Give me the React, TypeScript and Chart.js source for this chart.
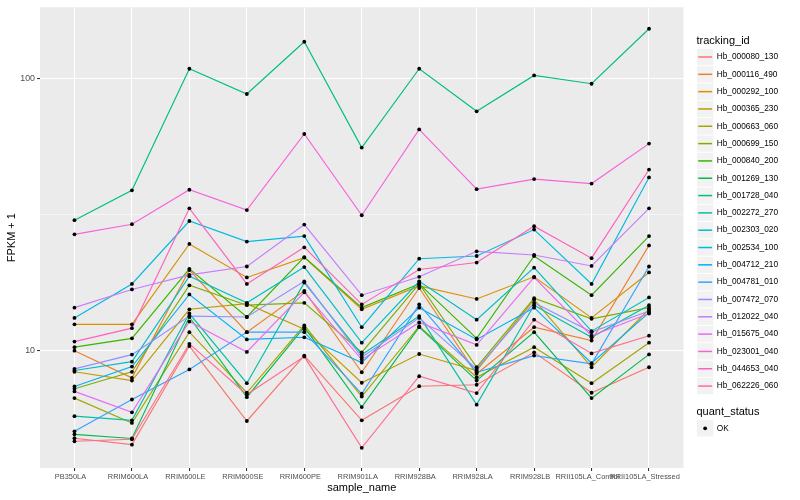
import React, { useEffect, useRef } from "react";
import { Chart, registerables } from "chart.js";

Chart.register(...registerables);

const categories = [
  "PB350LA",
  "RRIM600LA",
  "RRIM600LE",
  "RRIM600SE",
  "RRIM600PE",
  "RRIM901LA",
  "RRIM928BA",
  "RRIM928LA",
  "RRIM928LB",
  "RRII105LA_Control",
  "RRII105LA_Stressed",
];

const seriesNames = [
  "Hb_000080_130",
  "Hb_000116_490",
  "Hb_000292_100",
  "Hb_000365_230",
  "Hb_000663_060",
  "Hb_000699_150",
  "Hb_000840_200",
  "Hb_001269_130",
  "Hb_001728_040",
  "Hb_002272_270",
  "Hb_002303_020",
  "Hb_002534_100",
  "Hb_004712_210",
  "Hb_004781_010",
  "Hb_007472_070",
  "Hb_012022_040",
  "Hb_015675_040",
  "Hb_023001_040",
  "Hb_044653_040",
  "Hb_062226_060",
];

const seriesColors = [
  "#F8766D", "#EA8331", "#D89000", "#C09B00", "#A3A500",
  "#7CAE00", "#39B600", "#00BB4E", "#00BF7D", "#00C1A3",
  "#00BFC4", "#00BAE0", "#00B0F6", "#35A2FF", "#9590FF",
  "#C77CFF", "#E76BF3", "#FA62DB", "#FF62BC", "#FF6C91",
];

const hb000080 = [4.76, 4.51, 10.4, 5.51, 9.59, 5.54, 7.40, 7.49, 9.86, 7.00, 8.69];
const hb000116 = [10.0, 7.94, 19.8, 11.7, 16.6, 8.33, 17.0, 8.22, 12.2, 10.9, 24.4];
const hb000292 = [12.5, 12.5, 24.7, 18.6, 22.0, 14.2, 17.3, 15.5, 18.7, 13.2, 19.4];
const hb000365 = [8.36, 7.76, 14.2, 14.9, 12.0, 7.62, 9.72, 8.45, 15.4, 8.69, 14.2];
const hb000663 = [6.69, 5.42, 11.7, 7.00, 12.4, 6.78, 12.3, 7.98, 10.3, 7.59, 10.7];
const hb000699 = [7.24, 8.36, 17.4, 14.7, 15.0, 9.86, 17.6, 8.69, 15.6, 13.1, 14.4];
const hb000840 = [10.3, 11.1, 20.0, 13.3, 22.1, 14.4, 17.6, 11.1, 22.3, 16.0, 26.4];
const hb001269 = [4.92, 4.75, 13.3, 6.74, 12.2, 6.20, 12.2, 7.76, 11.7, 6.69, 9.69];
const hb001728 = [30.2, 38.9, 109, 88, 137, 55.9, 109, 76, 103, 96, 153];
const hb002272 = [5.74, 5.54, 13.7, 7.59, 17.8, 9.67, 13.4, 6.33, 14.7, 11.2, 14.7];
const hb002303 = [8.45, 9.11, 18.8, 15.0, 20.3, 10.7, 18.0, 13.0, 20.2, 11.8, 15.7];
const hb002534 = [13.2, 17.6, 30.0, 25.2, 26.4, 12.2, 21.8, 22.3, 27.9, 17.6, 43.4];
const hb004712 = [7.38, 8.74, 16.1, 11.0, 11.2, 9.04, 14.4, 11.0, 14.4, 8.99, 13.8];
const hb004781 = [5.05, 6.61, 8.53, 11.7, 11.7, 6.94, 14.8, 8.33, 9.59, 8.94, 20.4];
const hb007472 = [8.57, 9.67, 13.4, 13.3, 18.0, 9.45, 13.2, 8.57, 15.0, 11.7, 14.0];
const hb012022 = [14.4, 16.8, 19.0, 20.4, 29.1, 16.0, 18.7, 23.2, 22.5, 20.5, 33.4];
const hb015675 = [7.08, 5.93, 12.8, 9.89, 16.4, 9.27, 12.7, 10.5, 18.6, 11.35, 13.7];
const hb023001 = [26.8, 29.2, 39.1, 32.9, 62.7, 31.5, 65.2, 39.3, 42.8, 41.2, 57.8];
const hb044653 = [10.8, 12.1, 33.4, 17.6, 24.0, 14.8, 19.9, 21.1, 28.7, 21.9, 46.4];
const hb062226 = [4.64, 4.72, 10.6, 6.90, 9.51, 4.39, 8.05, 6.98, 13.0, 9.77, 11.35];

const yMajorTicks = [10, 100];
const yMinorTicks = [31.62];
const yRange = [3.7, 183.5];

const FONT = "'Liberation Sans', Arial, Helvetica, sans-serif";

export default function App() {
  const ref = useRef<HTMLCanvasElement | null>(null);

  useEffect(() => {
    const canvas = ref.current;
    if (!canvas) return;
    const seriesValues = [
      hb000080, hb000116, hb000292, hb000365, hb000663,
      hb000699, hb000840, hb001269, hb001728, hb002272,
      hb002303, hb002534, hb004712, hb004781, hb007472,
      hb012022, hb015675, hb023001, hb044653, hb062226,
    ];

    const datasets = seriesValues.map((vals, i) => ({
      label: seriesNames[i],
      data: vals.map((v, j) => ({ x: j, y: v })),
      borderColor: seriesColors[i],
      backgroundColor: seriesColors[i],
      borderWidth: 1.15,
      pointRadius: 0,
      pointHoverRadius: 0,
      fill: false,
      tension: 0,
      order: seriesValues.length - 1 - i,
    }));

    const bgPlugin = {
      id: "panelBg",
      beforeDraw(chart: any) {
        const { ctx, chartArea } = chart;
        ctx.save();
        ctx.fillStyle = "#FFFFFF";
        ctx.fillRect(0, 0, chart.width, chart.height);
        ctx.fillStyle = "#EBEBEB";
        ctx.fillRect(chartArea.left, chartArea.top, chartArea.right - chartArea.left, chartArea.bottom - chartArea.top);
        ctx.restore();
      },
    };

    const pointsPlugin = {
      id: "blackPoints",
      afterDatasetsDraw(chart: any) {
        const { ctx } = chart;
        ctx.save();
        ctx.fillStyle = "#000000";
        chart.data.datasets.forEach((_: any, di: number) => {
          const meta = chart.getDatasetMeta(di);
          meta.data.forEach((el: any) => {
            ctx.beginPath();
            ctx.arc(el.x, el.y, 1.9, 0, Math.PI * 2);
            ctx.fill();
          });
        });
        ctx.restore();
      },
    };

    const decorPlugin = {
      id: "decor",
      afterDraw(chart: any) {
        const { ctx, chartArea } = chart;
        ctx.save();
        // axis titles
        ctx.fillStyle = "#000000";
        ctx.font = `11px ${FONT}`;
        ctx.textAlign = "center";
        ctx.textBaseline = "middle";
        ctx.fillText("sample_name", (chartArea.left + chartArea.right) / 2, 488);
        ctx.save();
        ctx.translate(12, (chartArea.top + chartArea.bottom) / 2);
        ctx.rotate(-Math.PI / 2);
        ctx.fillText("FPKM + 1", 0, 0);
        ctx.restore();

        // legend: tracking_id
        const lx = 696.5;
        const key = 17.3;
        ctx.textAlign = "left";
        ctx.font = `11px ${FONT}`;
        ctx.fillText("tracking_id", lx, 41);
        seriesNames.forEach((name, i) => {
          const cy = 57 + i * 17.32;
          ctx.fillStyle = "#F2F2F2";
          ctx.fillRect(lx + 0.5, cy - key / 2 + 0.5, key - 1, key - 1);
          ctx.strokeStyle = seriesColors[i];
          ctx.lineWidth = 1.5;
          ctx.beginPath();
          ctx.moveTo(lx + 1.7, cy);
          ctx.lineTo(lx + key - 1.7, cy);
          ctx.stroke();
          ctx.fillStyle = "#000000";
          ctx.font = `8.3px ${FONT}`;
          ctx.fillText(name, 716.7, cy);
        });

        // legend: quant_status
        ctx.font = `11px ${FONT}`;
        ctx.fillStyle = "#000000";
        ctx.fillText("quant_status", lx, 412.3);
        const oy = 428.3;
        ctx.fillStyle = "#F2F2F2";
        ctx.fillRect(lx + 0.5, oy - key / 2 + 0.5, key - 1, key - 1);
        ctx.fillStyle = "#000000";
        ctx.beginPath();
        ctx.arc(lx + key / 2, oy, 1.9, 0, Math.PI * 2);
        ctx.fill();
        ctx.font = `8.3px ${FONT}`;
        ctx.fillText("OK", 716.7, oy);
        ctx.restore();
      },
    };

    const chart = new Chart(canvas, {
      type: "line",
      data: { datasets: datasets as any },
      options: {
        animation: false,
        responsive: false,
        events: [],
        layout: { padding: { left: 0, right: 116.5, top: 5, bottom: 0 } },
        plugins: {
          legend: { display: false },
          tooltip: { enabled: false },
          title: { display: false },
        },
        scales: {
          x: {
            type: "linear",
            min: -0.6,
            max: 10.6,
            afterBuildTicks: (s: any) => {
              s.ticks = categories.map((_, i) => ({ value: i }));
            },
            afterFit: (s: any) => {
              s.height = 32;
            },
            ticks: {
              callback: (v: any) => categories[Math.round(Number(v))] ?? "",
              autoSkip: false,
              maxRotation: 0,
              minRotation: 0,
              padding: 2,
              labelOffset: -4,
              color: "#4D4D4D",
              font: { family: FONT, size: 7.4 },
            },
            grid: {
              color: "#FFFFFF",
              lineWidth: 1.07,
              drawTicks: true,
              tickLength: 3,
              tickColor: "#333333",
              tickWidth: 1.07,
            },
            border: { display: false },
          },
          y: {
            type: "logarithmic",
            min: yRange[0],
            max: yRange[1],
            afterBuildTicks: (s: any) => {
              s.ticks = [...yMajorTicks, ...yMinorTicks]
                .sort((a, b) => a - b)
                .map((v) => ({ value: v }));
            },
            afterFit: (s: any) => {
              s.width = 40;
            },
            ticks: {
              callback: (v: any) => (yMajorTicks.includes(Number(v)) ? String(v) : ""),
              padding: 2,
              color: "#4D4D4D",
              font: { family: FONT, size: 8.8 },
            },
            grid: {
              color: "#FFFFFF",
              lineWidth: (c: any) => (c.tick && yMinorTicks.includes(c.tick.value) ? 0.53 : 1.07),
              drawTicks: true,
              tickLength: 3,
              tickWidth: 1.07,
              tickColor: (c: any) =>
                c.tick && yMinorTicks.includes(c.tick.value) ? "rgba(0,0,0,0)" : "#333333",
            },
            border: { display: false },
          },
        },
      },
      plugins: [bgPlugin, pointsPlugin, decorPlugin],
    });

    return () => {
      chart.destroy();
    };
  }, []);

  return (
    <div style={{ position: "absolute", left: 0, top: 0, width: 800, height: 500, background: "#FFFFFF" }}>
      <canvas ref={ref} width={800} height={500} style={{ width: 800, height: 500, display: "block" }} />
    </div>
  );
}
